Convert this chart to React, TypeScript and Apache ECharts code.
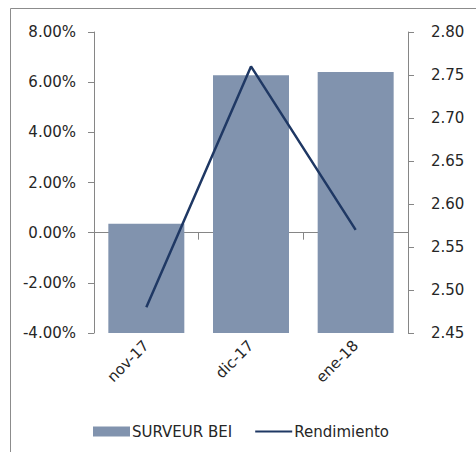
import React, { useEffect, useRef } from "react";
import * as echarts from "echarts";

const categories = ["nov-17", "dic-17", "ene-18"];
const surveurBei = [0.0036, 0.0628, 0.0641];
const rendimiento = [2.48, 2.76, 2.57];
const leftMin = -0.04;
const leftMax = 0.08;
const leftStep = 0.02;
const rightMin = 2.45;
const rightMax = 2.8;
const rightStep = 0.05;

const FONT = "DejaVu Sans";
const TEXT = "#262626";
const AXIS = "#868686";
const BAR = "#8193AE";
const LINE = "#1F3864";

export default function App() {
  const ref = useRef<HTMLDivElement>(null);
  useEffect(() => {
    if (!ref.current) return;
    const chart = echarts.init(ref.current, null, { renderer: "svg" });
    chart.setOption({
      animation: false,
      backgroundColor: "#ffffff",
      textStyle: { fontFamily: FONT, color: TEXT },
      graphic: [
        {
          type: "rect",
          shape: { x: 10.5, y: 8.5, width: 600, height: 600 },
          style: { fill: "none", stroke: "#8c8c8c", lineWidth: 1 },
          silent: true,
          z: -10,
        },
      ],
      legend: {
        left: 88,
        top: 419,
        itemWidth: 37,
        itemHeight: 10,
        itemGap: 22,
        textStyle: { fontFamily: FONT, fontSize: 15, color: TEXT, padding: [0, 0, 0, -3] },
        data: [
          { name: "SURVEUR BEI", icon: "rect" },
          { name: "Rendimiento", itemStyle: { opacity: 0 } },
        ],
      },
      grid: { left: 94, right: 68, top: 32, bottom: 119, containLabel: false },
      xAxis: [
        {
          type: "category",
          data: categories,
          position: "bottom",
          axisLine: { show: false, onZero: false },
          axisTick: { show: false },
          axisLabel: {
            rotate: 45,
            margin: 10,
            fontFamily: FONT,
            fontSize: 15,
            color: TEXT,
          },
        },
        {
          type: "category",
          data: categories,
          position: "bottom",
          axisLine: { show: true, onZero: true, onZeroAxisIndex: 0, lineStyle: { color: AXIS, width: 1 } },
          axisTick: { show: true, length: 7, lineStyle: { color: AXIS } },
          axisLabel: { show: false },
        },
      ],
      yAxis: [
        {
          type: "value",
          min: leftMin,
          max: leftMax,
          interval: leftStep,
          position: "left",
          axisLine: { show: true, lineStyle: { color: AXIS } },
          axisTick: { show: true, length: 6, lineStyle: { color: AXIS } },
          splitLine: { show: false },
          axisLabel: {
            margin: 18,
            fontFamily: FONT,
            fontSize: 15,
            color: TEXT,
            formatter: (v: number) => (v * 100).toFixed(2) + "%",
          },
        },
        {
          type: "value",
          min: rightMin,
          max: rightMax,
          interval: rightStep,
          position: "right",
          axisLine: { show: true, lineStyle: { color: AXIS } },
          axisTick: { show: true, length: 6, lineStyle: { color: AXIS } },
          splitLine: { show: false },
          axisLabel: {
            margin: 23,
            fontFamily: FONT,
            fontSize: 15,
            color: TEXT,
            formatter: (v: number) => v.toFixed(2),
          },
        },
      ],
      series: [
        {
          name: "SURVEUR BEI",
          type: "custom",
          xAxisIndex: 0,
          yAxisIndex: 0,
          itemStyle: { color: BAR },
          z: 1,
          encode: { x: 0, y: 1 },
          data: categories.map((_, i) => [i, surveurBei[i]]),
          renderItem: (params: any, api: any) => {
            const x = api.value(0);
            const v = api.value(1);
            const top = api.coord([x, v]);
            const base = api.coord([x, leftMin]);
            const bw = api.size([1, 0])[0] * 0.726;
            return {
              type: "rect",
              shape: { x: top[0] - bw / 2, y: top[1], width: bw, height: base[1] - top[1] },
              style: { fill: BAR },
            };
          },
        },
        {
          name: "Rendimiento",
          type: "line",
          xAxisIndex: 0,
          yAxisIndex: 1,
          data: rendimiento,
          symbol: "none",
          z: 5,
          lineStyle: { color: LINE, width: 2.5 },
          itemStyle: { color: LINE },
        },
      ],
    });
    return () => chart.dispose();
  }, []);
  return (
    <div
      ref={ref}
      style={{ position: "absolute", left: 0, top: 0, width: 476, height: 452 }}
    />
  );
}
